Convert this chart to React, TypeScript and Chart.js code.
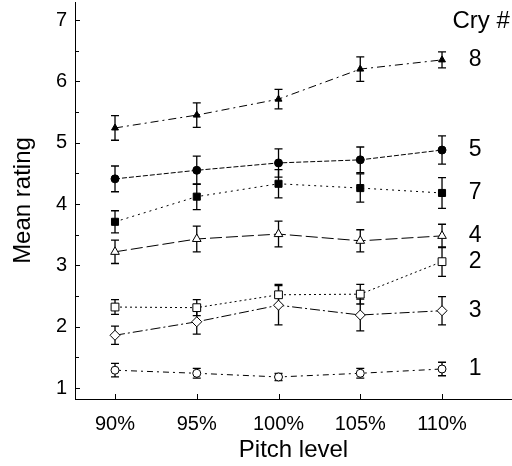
import React, { useEffect, useRef } from "react";
import { Chart, registerables } from "chart.js";

Chart.register(...registerables);

const pitchLevels = [90, 95, 100, 105, 110];
const pitchLabels = ["90%", "95%", "100%", "105%", "110%"];
const yTickValues = [1, 2, 3, 4, 5, 6, 7];

const cryNames = ["8", "5", "7", "4", "2", "3", "1"];
const cry8 = [5.24, 5.45, 5.71, 6.2, 6.35];
const err8 = [0.2, 0.2, 0.16, 0.2, 0.13];
const cry5 = [4.41, 4.55, 4.67, 4.72, 4.88];
const err5 = [0.21, 0.23, 0.23, 0.21, 0.23];
const cry7 = [3.71, 4.12, 4.33, 4.26, 4.18];
const err7 = [0.18, 0.21, 0.23, 0.23, 0.25];
const cry4 = [3.22, 3.43, 3.51, 3.4, 3.48];
const err4 = [0.19, 0.21, 0.21, 0.18, 0.19];
const cry2 = [2.32, 2.31, 2.52, 2.53, 3.06];
const err2 = [0.12, 0.13, 0.17, 0.16, 0.24];
const cry3 = [1.86, 2.08, 2.35, 2.19, 2.26];
const err3 = [0.15, 0.2, 0.32, 0.26, 0.23];
const cry1 = [1.29, 1.24, 1.18, 1.24, 1.31];
const err1 = [0.11, 0.08, 0.06, 0.08, 0.11];

const FONT = "'Liberation Sans', Arial, Helvetica, sans-serif";

const seriesValues = [cry8, cry5, cry7, cry4, cry2, cry3, cry1];
const seriesErrors = [err8, err5, err7, err4, err2, err3, err1];
const seriesStyle = [
  { pointStyle: "triangle", radius: 4, fill: "#000", dash: [8, 4, 2, 4] },
  { pointStyle: "circle", radius: 4, fill: "#000", dash: [5, 2] },
  { pointStyle: "rect", radius: 5, fill: "#000", dash: [2, 4] },
  { pointStyle: "triangle", radius: 5, fill: "#fff", dash: [12, 4] },
  { pointStyle: "rect", radius: 5.5, fill: "#fff", dash: [2, 3] },
  { pointStyle: "rectRot", radius: 5, fill: "#fff", dash: [10, 3, 2, 3] },
  { pointStyle: "circle", radius: 4, fill: "#fff", dash: [6, 4, 2, 4] },
];

const errorBarPlugin = {
  id: "errorBars",
  beforeDatasetsDraw(chart: any) {
    const { ctx, scales } = chart;
    const xs = scales.x;
    const ys = scales.y;
    ctx.save();
    ctx.strokeStyle = "#000";
    ctx.lineWidth = 1.3;
    seriesValues.forEach((vals, si) => {
      vals.forEach((v, i) => {
        const e = seriesErrors[si][i];
        const px = xs.getPixelForValue(pitchLevels[i]);
        const top = ys.getPixelForValue(v + e);
        const bot = ys.getPixelForValue(v - e);
        ctx.beginPath();
        ctx.moveTo(px, top);
        ctx.lineTo(px, bot);
        ctx.moveTo(px - 4, top);
        ctx.lineTo(px + 4, top);
        ctx.moveTo(px - 4, bot);
        ctx.lineTo(px + 4, bot);
        ctx.stroke();
      });
    });
    ctx.restore();
  },
  afterDraw(chart: any) {
    const { ctx, scales } = chart;
    const xs = scales.x;
    const ys = scales.y;
    const area = chart.chartArea;
    ctx.save();
    ctx.strokeStyle = "#000";
    ctx.lineWidth = 1;
    for (let v = 1; v <= 7.001; v += 0.5) {
      const py = Math.round(ys.getPixelForValue(v)) + 0.5;
      ctx.beginPath();
      ctx.moveTo(area.left, py);
      ctx.lineTo(area.left + (Number.isInteger(v) ? 5 : 4), py);
      ctx.stroke();
    }
    pitchLevels.forEach((p) => {
      const px = Math.round(xs.getPixelForValue(p)) + 0.5;
      ctx.beginPath();
      ctx.moveTo(px, area.bottom);
      ctx.lineTo(px, area.bottom - 5);
      ctx.stroke();
    });
    ctx.fillStyle = "#000";
    ctx.font = `24px ${FONT}`;
    ctx.textAlign = "center";
    ctx.textBaseline = "middle";
    ctx.fillText("Cry #", xs.getPixelForValue(112.39), ys.getPixelForValue(6.97));
    ctx.font = `23px ${FONT}`;
    seriesValues.forEach((vals, si) => {
      ctx.fillText(
        cryNames[si],
        xs.getPixelForValue(112.02),
        ys.getPixelForValue(vals[vals.length - 1])
      );
    });
    ctx.restore();
  },
};

export default function App() {
  const ref = useRef<HTMLCanvasElement | null>(null);
  useEffect(() => {
    if (!ref.current) return;
    const chart = new Chart(ref.current, {
      type: "line",
      data: {
        datasets: seriesValues.map((vals, si) => ({
          label: "Cry " + cryNames[si],
          data: vals.map((v, i) => ({ x: pitchLevels[i], y: v })),
          borderColor: "#000",
          borderWidth: 1,
          borderDash: seriesStyle[si].dash,
          pointStyle: seriesStyle[si].pointStyle as any,
          pointRadius: seriesStyle[si].radius,
          pointBackgroundColor: seriesStyle[si].fill,
          pointBorderColor: "#000",
          pointBorderWidth: 1,
          fill: false,
          tension: 0,
        })),
      },
      options: {
        animation: false,
        responsive: false,
        maintainAspectRatio: false,
        layout: { autoPadding: false, padding: { top: 2, right: 0, left: 0, bottom: 0 } },
        plugins: { legend: { display: false }, tooltip: { enabled: false } },
        scales: {
          x: {
            type: "linear",
            min: 87.553,
            max: 114.28,
            grid: { display: false, drawTicks: false },
            border: { display: true, color: "#000", width: 1 },
            afterBuildTicks: (scale: any) => {
              scale.ticks = pitchLevels.map((v) => ({ value: v }));
            },
            afterFit: (scale: any) => {
              scale.height = 67;
              scale.paddingLeft = 0;
              scale.paddingRight = 0;
            },
            ticks: {
              color: "#000",
              font: { family: FONT, size: 20 },
              padding: 13,
              maxRotation: 0,
              autoSkip: false,
              callback: (v: any) => {
                const i = pitchLevels.indexOf(Number(v));
                return i >= 0 ? pitchLabels[i] : "";
              },
            },
            title: {
              display: true,
              text: "Pitch level",
              color: "#000",
              font: { family: FONT, size: 24 },
              padding: { top: 0, bottom: 1 },
            },
          },
          y: {
            type: "linear",
            min: 0.8206,
            max: 7.294,
            grid: { display: false, drawTicks: false },
            border: { display: true, color: "#000", width: 1 },
            afterBuildTicks: (scale: any) => {
              scale.ticks = yTickValues.map((v) => ({ value: v }));
            },
            afterFit: (scale: any) => {
              scale.width = 75;
              scale.paddingTop = 0;
              scale.paddingBottom = 0;
            },
            ticks: {
              color: "#000",
              font: { family: FONT, size: 20 },
              padding: 8,
              callback: (v: any) => String(v),
            },
            title: {
              display: true,
              text: "Mean rating",
              color: "#000",
              font: { family: FONT, size: 24 },
              padding: { top: 9, bottom: 0 },
            },
          },
        },
      },
      plugins: [errorBarPlugin],
    });
    return () => chart.destroy();
  }, []);
  return (
    <div style={{ position: "absolute", left: 0, top: 0, width: 512, height: 466, background: "#fff" }}>
      <canvas ref={ref} width={512} height={466} style={{ width: 512, height: 466 }} />
    </div>
  );
}
